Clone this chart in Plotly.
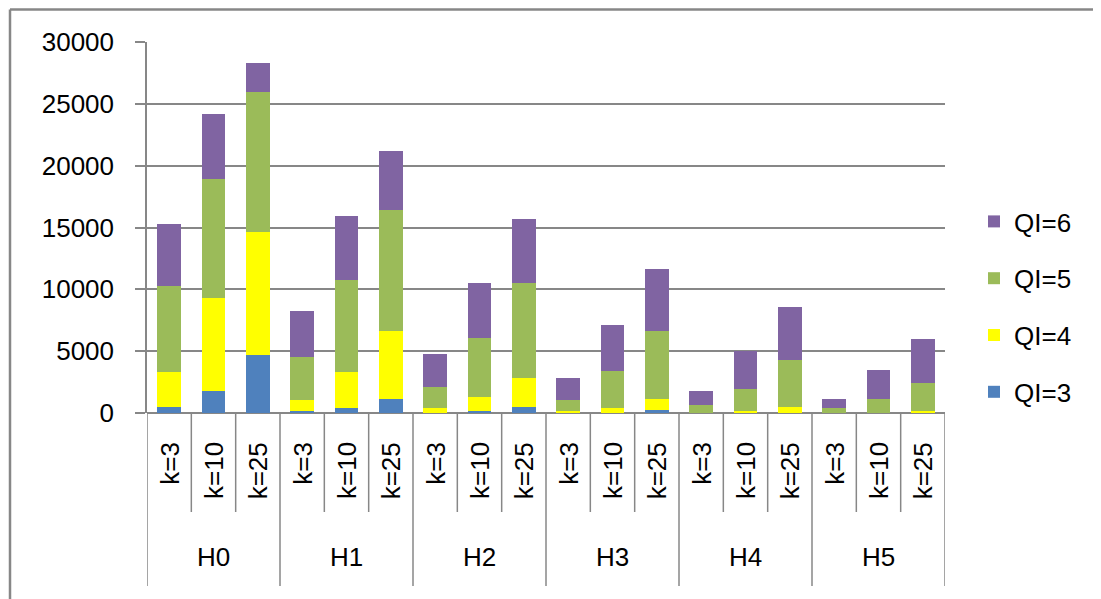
import plotly.graph_objects as go

groups = ["H0", "H1", "H2", "H3", "H4", "H5"]
k_labels = ["k=3", "k=10", "k=25"]
categories = [f"{g} {k}" for g in groups for k in k_labels]

qi3 = [510, 1800, 4700, 190, 430, 1160, 30, 190, 510, 20, 30, 270, 0, 10, 20, 0, 0, 10]
qi4 = [2770, 7480, 9950, 890, 2850, 5460, 400, 1130, 2340, 170, 400, 890, 40, 180, 490, 20, 30, 180]
qi5 = [7020, 9640, 11290, 3470, 7510, 9800, 1690, 4750, 7700, 890, 2980, 5470, 630, 1770, 3790, 410, 1130, 2260]
qi6 = [5000, 5250, 2330, 3670, 5150, 4780, 2660, 4480, 5150, 1770, 3690, 4990, 1130, 3040, 4240, 730, 2340, 3540]

series = [("QI=3", qi3, "#4F81BD", 4), ("QI=4", qi4, "#FFFF00", 3),
          ("QI=5", qi5, "#9BBB59", 2), ("QI=6", qi6, "#8064A2", 1)]
y_ticks = [0, 5000, 10000, 15000, 20000, 25000, 30000]

OFF = 8  # page body margin
W, H = 1093, 591
L, T = 139, 34
R = W - 937
B = H - 405
PW, PH = W - L - R, H - T - B
BOTTOM = H - B

def px_x(px):
    return (px - OFF - L) / PW

def px_y(py):
    return (BOTTOM - (py - OFF)) / PH

GRAY = "#878787"
FONT = "Liberation Sans, Arial, sans-serif"
FS = 26

fig = go.Figure()
for name, vals, color, rank in series:
    fig.add_trace(go.Bar(x=categories, y=vals, name=name, legendgroup=name,
                         legendrank=rank,
                         marker=dict(color=color, line=dict(width=0))))

shapes = []
n = len(categories)
for i in range(n + 1):
    xpos = i - 0.5
    bottom_px = 586 if i % 3 == 0 else 512
    shapes.append(dict(type="line", xref="x", yref="paper", x0=xpos, x1=xpos,
                       y0=0, y1=px_y(bottom_px), line=dict(color=GRAY, width=1.5)))
# outer chart border (top and left edges visible)
shapes.append(dict(type="line", xref="paper", yref="paper",
                   x0=px_x(10), x1=px_x(1101), y0=px_y(9.5), y1=px_y(9.5),
                   line=dict(color=GRAY, width=2.5), layer="below"))
shapes.append(dict(type="line", xref="paper", yref="paper",
                   x0=px_x(10), x1=px_x(10), y0=px_y(9.5), y1=px_y(599),
                   line=dict(color=GRAY, width=2.5), layer="below"))

annotations = []
for i, cat in enumerate(categories):
    annotations.append(dict(x=cat, xref="x", yref="paper", y=px_y(440),
                            text=k_labels[i % 3], textangle=-90, showarrow=False,
                            xanchor="center", yanchor="top",
                            font=dict(family=FONT, size=FS, color="#000000")))
for gi, g in enumerate(groups):
    annotations.append(dict(x=categories[gi * 3 + 1], xref="x", yref="paper", y=px_y(557),
                            text=g, showarrow=False, xanchor="center", yanchor="middle",
                            font=dict(family=FONT, size=FS, color="#000000")))

fig.update_layout(
    width=W, height=H,
    margin=dict(l=L, r=R, t=T, b=B),
    barmode="stack", bargap=0.46,
    paper_bgcolor="white", plot_bgcolor="white",
    font=dict(family=FONT, size=FS, color="#000000"),
    showlegend=True,
    legend=dict(x=px_x(974), xanchor="left", y=px_y(307), yanchor="middle",
                traceorder="grouped", tracegroupgap=20,
                font=dict(family=FONT, size=FS, color="#000000"),
                bgcolor="rgba(0,0,0,0)"),
    xaxis=dict(showticklabels=False, ticks="", showgrid=False, showline=False,
               zeroline=False, range=[-0.5, n - 0.5]),
    yaxis=dict(range=[0, 30000], tickvals=y_ticks, ticktext=[str(v) for v in y_ticks],
               showgrid=True, gridcolor=GRAY, gridwidth=1.6,
               zeroline=True, zerolinecolor=GRAY, zerolinewidth=1.6,
               showline=True, linecolor=GRAY, linewidth=1.5,
               ticks="outside", ticklen=10, tickcolor=GRAY, tickwidth=1.5,
               ticklabelstandoff=16,
               tickfont=dict(family=FONT, size=FS, color="#000000")),
    shapes=shapes, annotations=annotations,
)

fig.write_html("out.html")
